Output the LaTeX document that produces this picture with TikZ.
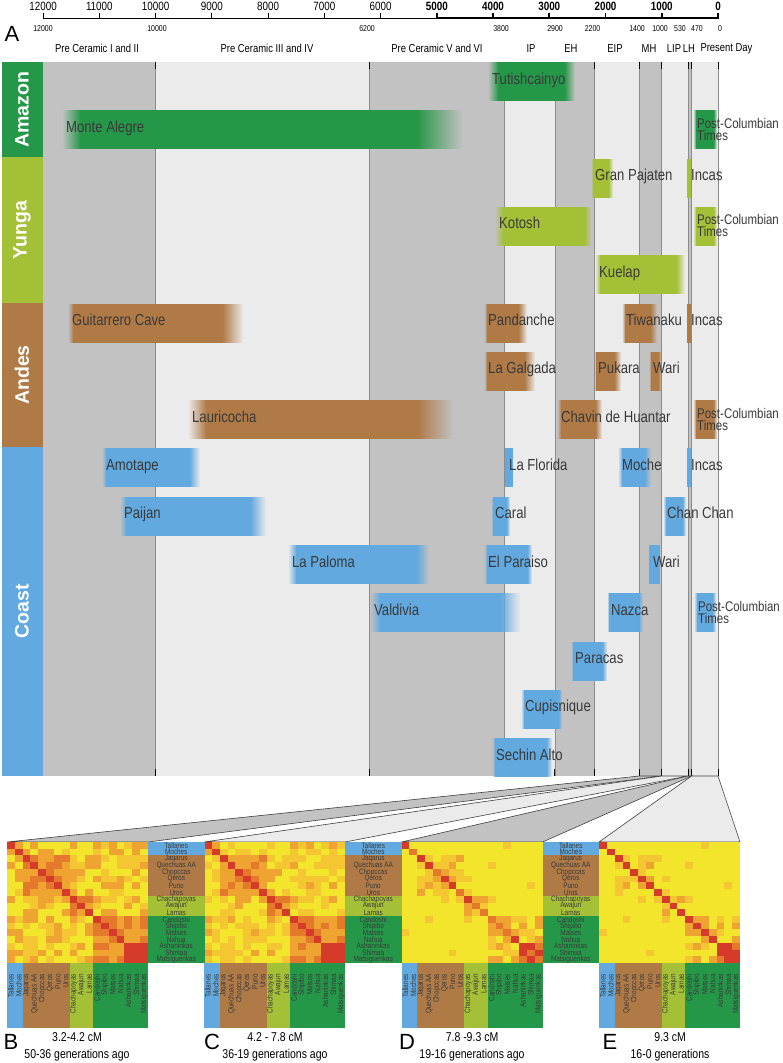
\documentclass[tikz,border=0pt]{standalone}
\usepackage{fontspec}
\setmainfont{Liberation Sans}[FakeStretch=0.82]
\newfontfamily\widesans{Liberation Sans}
\usetikzlibrary{fadings}

\definecolor{amazon}{HTML}{259748}
\definecolor{yunga}{HTML}{A3C037}
\definecolor{andes}{HTML}{B07A47}
\definecolor{coast}{HTML}{62A9E0}
\definecolor{bandgrey}{HTML}{C2C2C2}
\definecolor{bandlight}{HTML}{EBEBEB}
\definecolor{labelgrey}{HTML}{3A3A3A}
\definecolor{hm0}{HTML}{F2E52B}
\definecolor{hm1}{HTML}{F4C632}
\definecolor{hm2}{HTML}{EFA330}
\definecolor{hm3}{HTML}{E5792B}
\definecolor{hm4}{HTML}{D63A28}

\tikzfading[name=fade in, left color=transparent!100, right color=transparent!0]
\tikzfading[name=fade out, left color=transparent!0, right color=transparent!100]

\tikzset{
  sitelabel/.style={anchor=base west, inner sep=0pt, text=labelgrey, font=\fontsize{16}{16}\selectfont},
  postlabel/.style={anchor=west, yshift=3pt, inner sep=0pt, text=labelgrey, align=left, font=\fontsize{14}{12}\selectfont},
  period/.style={inner sep=0pt, font=\fontsize{11.5}{12}\selectfont},
  bound/.style={inner sep=0pt, font=\fontsize{8.5}{9}\selectfont},
  year/.style={inner sep=0pt, font=\fontsize{12}{12}\selectfont},
  region/.style={rotate=90, inner sep=0pt, text=white, font=\widesans\bfseries\fontsize{19.5}{20}\selectfont},
  panel/.style={inner sep=0pt, font=\widesans\fontsize{22}{22}\selectfont},
  caption/.style={inner sep=0pt, align=center, font=\fontsize{12.8}{17}\selectfont},
  popname/.style={inner sep=0pt, text=labelgrey, font=\fontsize{7.8}{7.8}\selectfont},
  bandline/.style={draw=black!45, line width=0.7pt},
  tick/.style={draw=black, line width=0.9pt},
  wedge/.style={draw=black!75, line width=0.6pt}
}

\newcommand\poplist{Tallanes,Moches,Jaqarus,Quechuas AA,Chopccas,Qeros,Puno,Uros,Chachapoyas,Awajun,Lamas,Candoshi,Shipibo,Matses,Nahua,Ashaninkas,Shimaa,Matsiguenkas}

\newcommand\site[9][sitelabel]{%
  \pgfmathsetmacro\sitetop{62+48.3*#3}%
  \pgfmathsetmacro\sitebot{\sitetop+39}%
  \fill[#8] (#4+#6, \sitetop) rectangle (#5-#7, \sitebot);
  \ifdim#6pt>0pt \fill[#8, path fading=fade in] (#4, \sitetop) rectangle (#4+#6+0.5, \sitebot);\fi
  \ifdim#7pt>0pt \fill[#8, path fading=fade out] (#5-#7-0.5, \sitetop) rectangle (#5, \sitebot);\fi
  \node[#1] (#2) at (#4+4, \sitetop+22) {#9};
}

\newcommand\heatmap[6]{%
  \foreach \i in {0,...,17}
    \foreach \j in {0,...,17} {
      \pgfmathsetmacro\nz{mod(abs(sin(41*(\i+1)*(\j+1)+17*(\i+\j)))*97.3,1)}
      \pgfmathtruncatemacro\same{((\i>1)+(\i>7)+(\i>10))==((\j>1)+(\j>7)+(\j>10))}
      \pgfmathtruncatemacro\lev{min(4,(\i==\j) ? (#5) : ((\i>14 && \j>14) ? (#6) : ((\same==1) ? (#2+#3*\nz) : (#4*\nz))))}
      \fill[hm\lev] ({#1+7.833*\j},{842+6.722*\i}) rectangle +(7.95,6.85);
    }
}

\newcommand\poprows[2]{%
  \foreach \a/\b/\col in {0/2/coast,2/8/andes,8/11/yunga,11/18/amazon}
    \fill[\col] (#1,{842+6.722*\a}) rectangle ({#1+56.5},{842+6.722*\b});
  \foreach \nm [count=\i from 0] in \poplist
    \node[popname] (#2\i) at ({#1+28.25},{842+6.722*(\i+0.5)}) {\nm};
}

\newcommand\popcols[2]{%
  \foreach \a/\b/\col in {0/2/coast,2/8/andes,8/11/yunga,11/18/amazon}
    \fill[\col] ({#1+7.833*\a},963) rectangle ({#1+7.833*\b},1028);
  \foreach \nm [count=\j from 0] in \poplist
    \node[popname, rotate=90, anchor=east] (#2\j) at ({#1+7.833*(\j+0.5)},974) {\nm};
}

\begin{document}
\begin{tikzpicture}[x=1pt, y=-1pt]
\useasboundingbox (0,0) rectangle (783,1063);

\draw[line width=0.8pt] (43,18) -- (436.75,18);
\draw[line width=1.7pt] (436.75,18) -- (718.5,18);
\foreach \yr [count=\k] in {12000,11000,...,6000} {
  \draw[line width=0.8pt] ({718-0.05625*\yr},12.5) -- ({718-0.05625*\yr},18);
  \node[year] (yr\k) at ({718-0.05625*\yr},6) {\yr};
}
\foreach \yr [count=\k] in {5000,4000,...,0} {
  \draw[line width=1.7pt] ({718-0.05625*\yr},12.5) -- ({718-0.05625*\yr},18);
  \node[year, font=\bfseries\fontsize{12}{12}\selectfont] (yrb\k) at ({718-0.05625*\yr},6) {\yr};
}
\node[panel] (lblA) at (12,34) {A};
\foreach \yr/\xx [count=\k] in {12000/43,10000/157,6200/367,3800/501,2900/555,2200/592.5,1400/637,1000/660,530/680,470/697,0/720}
  \node[bound] (bd\k) at (\xx,29) {\yr};
\foreach \nm/\xx [count=\k] in {Pre Ceramic I and II/97,Pre Ceramic III and IV/267,Pre Ceramic V and VI/437,IP/531,EH/571,EIP/615,MH/649,LIP/674,LH/689,Present Day/726.5}
  \node[period] (per\k) at (\xx,48.5) {\nm};

\foreach \from/\to/\col in {43/155.5/bandgrey,155.5/369.3/bandlight,369.3/504.3/bandgrey,504.3/554.9/bandlight,554.9/594.3/bandgrey,594.3/639.3/bandlight,639.3/661.8/bandgrey,661.8/688.2/bandlight,688.2/691.6/bandgrey,691.6/718/bandlight}
  \fill[\col] (\from,62) rectangle (\to,776);
\foreach \xx in {155.5,369.3,504.3,554.9,594.3,639.3,661.8,688.2,691.6,718} {
  \draw[bandline] (\xx,62) -- (\xx,776);
  \draw[tick] (\xx,62) -- (\xx,69);
  \draw[tick] (\xx,769) -- (\xx,776);
}

\fill[amazon] (2,62) rectangle (43,157);
\fill[yunga] (2,157) rectangle (43,303);
\fill[andes] (2,303) rectangle (43,447);
\fill[coast] (2,447) rectangle (43,776);
\node[region] (amazonlbl) at (22,109.5) {Amazon};
\node[region] (yungalbl) at (22,230) {Yunga};
\node[region] (andeslbl) at (22,375) {Andes};
\node[region] (coastlbl) at (22,611.5) {Coast};

\site{tutish}{0}{488}{575}{10}{10}{amazon}{Tutishcainyo}
\site{montealegre}{1}{62}{462}{18}{45}{amazon}{Monte Alegre}
\site[postlabel]{postamazon}{1}{693}{717}{3}{3}{amazon}{Post-Columbian\\Times}
\site{granpajaten}{2}{591}{613}{2}{4}{yunga}{Gran Pajaten}
\site{incasyunga}{2}{687}{691}{0}{0}{yunga}{Incas}
\site{kotosh}{3}{495}{591}{8}{6}{yunga}{Kotosh}
\site[postlabel]{postyunga}{3}{693}{717}{3}{3}{yunga}{Post-Columbian\\Times}
\site{kuelap}{4}{595}{685}{5}{8}{yunga}{Kuelap}
\site{guitarrero}{5}{68}{243}{5}{20}{andes}{Guitarrero Cave}
\site{pandanche}{5}{484}{527}{3}{8}{andes}{Pandanche}
\site{tiwanaku}{5}{622}{657}{3}{6}{andes}{Tiwanaku}
\site{incasandes}{5}{687}{691}{0}{0}{andes}{Incas}
\site{lagalgada}{6}{484}{535}{3}{10}{andes}{La Galgada}
\site{pukara}{6}{594}{621}{2}{6}{andes}{Pukara}
\site{wariandes}{6}{649}{661}{2}{2}{andes}{Wari}
\site{lauricocha}{7}{188}{453}{18}{35}{andes}{Lauricocha}
\site{chavin}{7}{557}{602}{4}{6}{andes}{Chavin de Huantar}
\site[postlabel]{postandes}{7}{693}{717}{3}{3}{andes}{Post-Columbian\\Times}
\site{amotape}{8}{102}{200}{4}{10}{coast}{Amotape}
\site{laflorida}{8}{505}{513}{0}{0}{coast}{La Florida}
\site{moche}{8}{618}{651}{4}{6}{coast}{Moche}
\site{incascoast}{8}{687}{691}{0}{0}{coast}{Incas}
\site{paijan}{9}{120}{266}{6}{15}{coast}{Paijan}
\site{caral}{9}{491}{510}{2}{3}{coast}{Caral}
\site{chanchan}{9}{663}{686}{3}{3}{coast}{Chan Chan}
\site{lapaloma}{10}{288}{429}{8}{12}{coast}{La Paloma}
\site{elparaiso}{10}{484}{532}{3}{4}{coast}{El Paraiso}
\site{waricoast}{10}{649}{660}{0}{0}{coast}{Wari}
\site{valdivia}{11}{370}{520}{10}{20}{coast}{Valdivia}
\site{nazca}{11}{607}{643}{2}{4}{coast}{Nazca}
\site[postlabel]{postcoast}{11}{694}{716}{3}{3}{coast}{Post-Columbian\\Times}
\site{paracas}{12}{571}{607}{2}{4}{coast}{Paracas}
\site{cupisnique}{13}{521}{562}{3}{3}{coast}{Cupisnique}
\site{sechin}{14}{492}{552}{3}{5}{coast}{Sechin Alto}

\coordinate (mhL) at (639.3,776);
\coordinate (mhR) at (661.8,776);
\coordinate (lipR) at (688.2,776);
\coordinate (lhR) at (691.6,776);
\coordinate (nowR) at (718,776);
\coordinate (Btl) at (7,842);
\coordinate (Btr) at (148,842);
\coordinate (Ctl) at (204,842);
\coordinate (Ctr) at (345,842);
\coordinate (Dtl) at (401.5,842);
\coordinate (Dtr) at (542.5,842);
\coordinate (Etl) at (599,842);
\coordinate (Etr) at (740,842);
\filldraw[wedge, fill=bandgrey] (mhL) -- (mhR) -- (Btr) -- (Btl) -- cycle;
\filldraw[wedge, fill=bandlight] (mhR) -- (lipR) -- (Ctr) -- (Ctl) -- cycle;
\filldraw[wedge, fill=bandgrey] (lipR) -- (lhR) -- (Dtr) -- (Dtl) -- cycle;
\filldraw[wedge, fill=bandlight] (lhR) -- (nowR) -- (Etr) -- (Etl) -- cycle;

\heatmap{7}{2.5}{1.3}{3.0}{4}{4}
\heatmap{204}{2.1}{1.5}{2.4}{4}{4}
\heatmap{401.5}{0.6}{2.4}{1.12}{3.4+\nz}{3+1.2*\nz}
\heatmap{599}{0.4}{2.3}{1.08}{4}{3+1.4*\nz}
\poprows{148}{rB}
\poprows{345}{rC}
\poprows{542.5}{rD}
\popcols{7}{cB}
\popcols{204}{cC}
\popcols{401.5}{cD}
\popcols{599}{cE}

\node[panel] (lblB) at (11,1041.5) {B};
\node[caption] (capB) at (77,1046.5) {3.2-4.2 cM\\50-36 generations ago};
\node[panel] (lblC) at (212,1041.5) {C};
\node[caption] (capC) at (275,1046.5) {4.2 - 7.8 cM\\36-19 generations ago};
\node[panel] (lblD) at (407,1041.5) {D};
\node[caption] (capD) at (472,1046.5) {7.8 -9.3 cM\\19-16 generations ago};
\node[panel] (lblE) at (610,1041.5) {E};
\node[caption] (capE) at (670,1046.5) {9.3 cM\\16-0 generations};
\end{tikzpicture}
\end{document}
